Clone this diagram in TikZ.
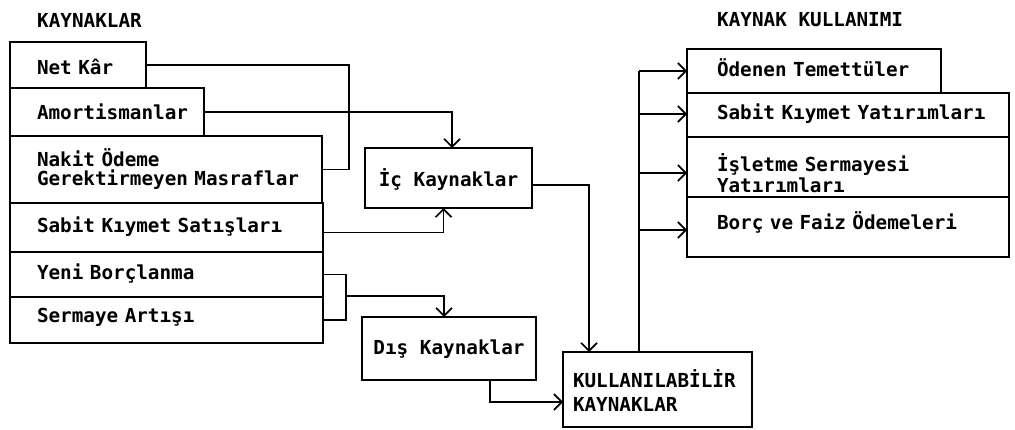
\documentclass[tikz,border=0pt]{standalone}
\usepackage{fontspec}
\setmainfont{DejaVu Sans Mono}
\usetikzlibrary{arrows.meta}
\newcommand\lind{\hspace*{27pt}}
\newcommand\rind{\hspace*{30pt}}
\newcommand\kind{\hspace*{10pt}}
\begin{document}
\begin{tikzpicture}[x=1pt,y=-1pt,
  every node/.style={font=\bfseries\fontsize{19.3}{20}\selectfont},
  box/.style={draw, line width=1.8pt, anchor=north west, inner sep=0pt, outer sep=0pt, align=left, text height=25pt},
  cbox/.style={draw, line width=1.8pt, anchor=north west, inner sep=0pt, outer sep=0pt, align=center, text height=25pt},
  conn/.style={line width=1.6pt},
  arr/.style={conn, -{Straight Barb[length=8pt,width=16pt,line width=1.6pt]}},
  ttl/.style={anchor=base west, inner sep=0pt}]
\useasboundingbox (0,0) rectangle (1015,430);

% titles
\node[ttl] (t1) at (37,28) {KAYNAKLAR};
\node[ttl] (t2) at (717,27) {KAYNAK KULLANIMI};

% left stack
\node[box, minimum width=136pt, minimum height=46pt, text width=136pt, text depth=5pt] (netkar) at (10,42) {\lind Net Kâr};
\node[box, minimum width=194pt, minimum height=48pt, text width=194pt, text depth=9pt] (amort) at (10,88) {\lind Amortismanlar};
\node[box, minimum width=312pt, minimum height=67pt, text width=312pt, text depth=30pt, font=\bfseries\fontsize{19.3}{19}\selectfont] (nakit) at (10,136) {\lind Nakit Ödeme\\\lind Gerektirmeyen Masraflar};
\node[box, minimum width=313pt, minimum height=49pt, text width=313pt, text depth=14pt] (sabit) at (10,203) {\lind Sabit Kıymet Satışları};
\node[box, minimum width=313pt, minimum height=45pt, text width=313pt, text depth=14pt] (yeni) at (10,252) {\lind Yeni Borçlanma};
\node[box, minimum width=313pt, minimum height=46pt, text width=313pt, text depth=19pt] (sermaye) at (10,297) {\lind Sermaye Artışı};

% middle
\node[cbox, minimum width=167pt, minimum height=60pt, text depth=7pt] (ic) at (365,148) {İç Kaynaklar};
\node[cbox, minimum width=174pt, minimum height=63pt, text depth=12pt] (dis) at (362,317) {Dış Kaynaklar};
\node[box, minimum width=189pt, minimum height=75pt, text width=189pt, text depth=28pt, font=\bfseries\fontsize{19.3}{24}\selectfont] (kull) at (563,352) {\kind KULLANILABİLİR\\\kind KAYNAKLAR};

% right stack
\node[box, minimum width=254pt, minimum height=44pt, text width=254pt, text depth=13pt] (odenen) at (687,49) {\rind Ödenen Temettüler};
\node[box, minimum width=322pt, minimum height=44pt, text width=322pt, text depth=15pt] (sabity) at (687,93) {\rind Sabit Kıymet Yatırımları};
\node[box, minimum width=322pt, minimum height=60pt, text width=322pt, text depth=15pt, font=\bfseries\fontsize{19.3}{21}\selectfont] (isletme) at (687,137) {\rind İşletme Sermayesi\\\rind Yatırımları};
\node[box, minimum width=322pt, minimum height=60pt, text width=322pt, text depth=19pt] (borc) at (687,197) {\rind Borç ve Faiz Ödemeleri};

% connectors: internal sources
\coordinate (ja) at (349,0);
\draw[conn] (netkar.east) -| (ja |- nakit.east) -- (nakit.east);
\draw[arr] (amort.east) -| ([xshift=3.5pt]ic.north);
\draw[arr] ([yshift=-5pt]sabit.east) -| ([xshift=-5pt]ic.south);

% external sources
\coordinate (jb) at (346,296);
\draw[conn] (yeni.east) -| (jb |- sermaye.east) -- (sermaye.east);
\draw[arr] (jb) -| ([xshift=-5pt]dis.north);

% to available resources
\draw[arr] ([yshift=-7pt]ic.east) -| ([xshift=26pt]kull.north west);
\draw[arr] ([xshift=41pt]dis.south) |- ([yshift=-12.5pt]kull.west);

% uses
\coordinate (jc) at ([xshift=76pt]kull.north west);
\coordinate (po) at (odenen.west);
\coordinate (ps) at ([yshift=1pt]sabity.west);
\coordinate (pi) at ([yshift=-6pt]isletme.west);
\coordinate (pb) at ([yshift=-3pt]borc.west);
\draw[conn] (jc) -- (jc |- po);
\draw[arr] (jc |- po) -- (po);
\draw[arr] (jc |- ps) -- (ps);
\draw[arr] (jc |- pi) -- (pi);
\draw[arr] (jc |- pb) -- (pb);
\end{tikzpicture}
\end{document}
